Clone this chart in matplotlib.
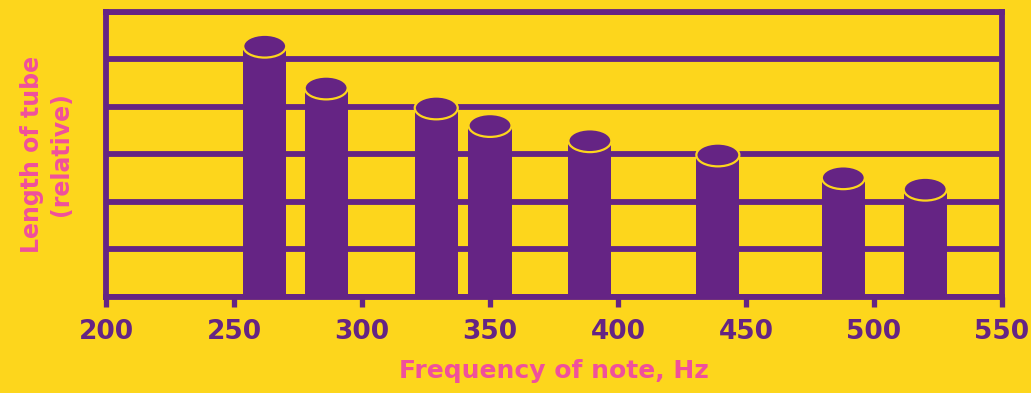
import matplotlib.pyplot as plt
from matplotlib.patches import Ellipse

# tube notes: frequency (Hz) and relative tube length
freqs = [262, 286, 329, 350, 389, 439, 488, 520]
lengths = [5.28, 4.40, 3.98, 3.61, 3.29, 2.99, 2.51, 2.27]
xticks = [200, 250, 300, 350, 400, 450, 500, 550]

YELLOW = "#fdd61c"
PURPLE = "#652484"
PINK = "#f0509c"
bar_w = 16.8
cap_h = 0.48

fig = plt.figure(figsize=(10.31, 3.93), dpi=100, facecolor=YELLOW)
ax = fig.add_axes([0.1028, 0.2443, 0.8691, 0.7252])
ax.set_facecolor(YELLOW)

ax.bar(freqs, lengths, width=bar_w, color=PURPLE, zorder=3)
for f, h in zip(freqs, lengths):
    ax.add_patch(Ellipse((f, h), bar_w, cap_h, facecolor=PURPLE,
                         edgecolor=YELLOW, lw=1.6, zorder=4))

ax.set_xlim(200, 550)
ax.set_ylim(0, 6)
ax.set_xticks(xticks)
ax.set_yticks(range(7))
ax.set_yticklabels([])
ax.tick_params(axis="y", length=0)
ax.tick_params(axis="x", length=7, width=3.8, color=PURPLE, pad=9,
               labelsize=19, labelcolor=PURPLE)
for lbl in ax.get_xticklabels():
    lbl.set_fontweight("bold")

ax.set_axisbelow(True)
ax.grid(axis="y", color=PURPLE, lw=4.2)
for s in ax.spines.values():
    s.set_color(PURPLE)
    s.set_linewidth(4.2)

ax.set_xlabel("Frequency of note, Hz", color=PINK, fontsize=18,
              fontweight="bold", labelpad=10)
ax.set_ylabel("Length of tube\n(relative)", color=PINK, fontsize=17,
              fontweight="bold", linespacing=1.3, labelpad=20)

fig.savefig("out.png", dpi=100, facecolor=YELLOW)
